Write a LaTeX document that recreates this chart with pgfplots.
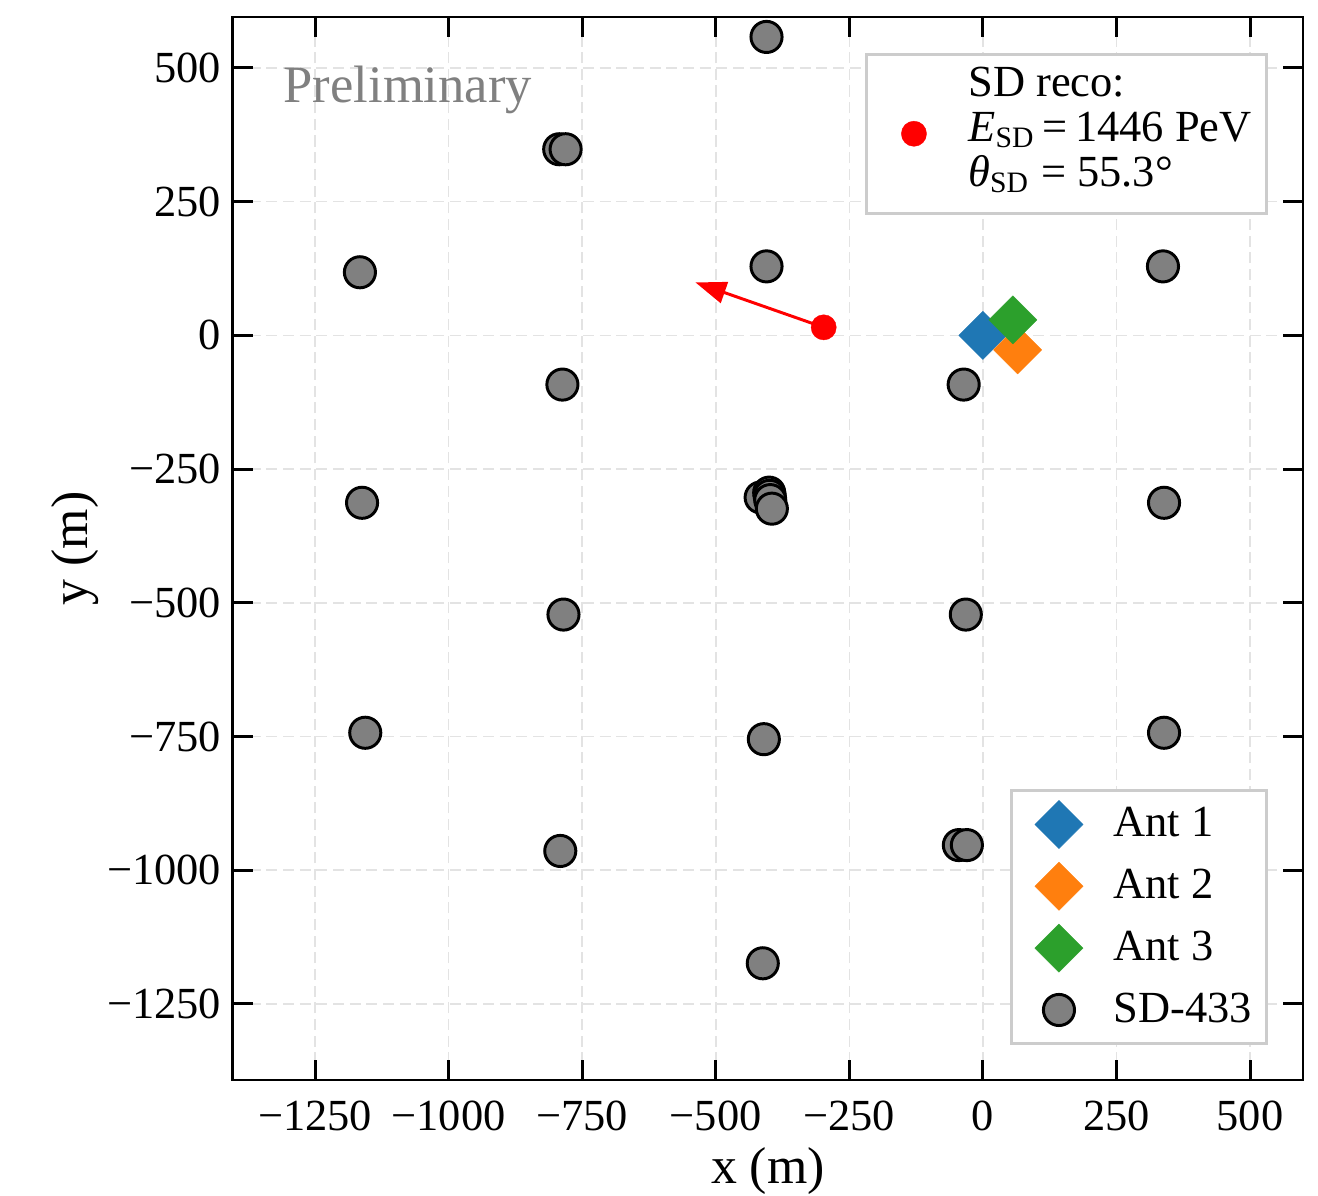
\documentclass[12pt,border=0pt]{standalone}
\usepackage{fontspec}
\setmainfont{Liberation Serif}
\usepackage{pgfplots}
\pgfplotsset{compat=1.18}
\usetikzlibrary{arrows.meta}

\definecolor{tabblue}{HTML}{1F77B4}
\definecolor{taborange}{HTML}{FF7F0E}
\definecolor{tabgreen}{HTML}{2CA02C}
\definecolor{sdgray}{HTML}{808080}
\definecolor{legframe}{HTML}{CCCCCC}
\definecolor{gridcol}{HTML}{E3E3E3}

\pgfplotsset{
  stationaxis/.style={
    scale only axis,
    width=288.9pt, height=287pt,
    xmin=-1403.6, xmax=599.1,
    ymin=-1392.2, ymax=595.3,
  },
  % one mark per entry, with fixed room before and after it
  legend image code/.code={%
    \path (-8.4pt,0pt) (14.3pt,0pt);
    \draw[#1] plot coordinates {(0pt,0pt)};},
}

\begin{document}
\begin{tikzpicture}
\begin{axis}[
  stationaxis,
  name=main,
  axis line style={line width=0.8pt},
  tick align=inside,
  xtick pos=both, ytick pos=both,
  major tick length=5.5pt,
  every tick/.style={black, line width=0.8pt},
  minor tick num=0,
  xtick={-1250,-1000,-750,-500,-250,0,250,500},
  xticklabels={−1250,−1000,−750,−500,−250,0,250,500},
  ytick={-1250,-1000,-750,-500,-250,0,250,500},
  yticklabels={−1250,−1000,−750,−500,−250,0,250,500},
  x tick label style={yshift=-1.4pt},
  y tick label style={xshift=1pt},
  grid=major,
  major grid style={gridcol, line width=0.4pt, dash pattern=on 3pt off 1.5pt},
  xlabel={x (m)}, ylabel={y (m)},
  label style={font=\fontsize{14}{16.8}\selectfont},
  xlabel style={at={(axis description cs:0.5,-0.0854)}, anchor=center},
  ylabel style={at={(axis description cs:-0.1478,0.5)}, anchor=center},
  legend style={at={(axis description cs:1,0)}, anchor=south east,
    xshift=-9.45pt, yshift=9.45pt, draw=legframe, line width=0.8pt,
    fill=white, row sep=0pt, column sep=0pt,
    inner xsep=4pt, inner ysep=0.7pt,
    nodes={inner xsep=0pt, inner ysep=1pt, text height=10.7pt, text depth=4pt}},
  legend cell align=left,
]
% antennas
\addplot[only marks, mark=square*, mark size=4.6pt,
  mark options={rotate=45, fill=tabblue, draw=tabblue, line width=0.1pt}]
  coordinates {(0,0)};
\addlegendentry{Ant 1}
\addplot[only marks, mark=square*, mark size=4.6pt,
  mark options={rotate=45, fill=taborange, draw=taborange, line width=0.1pt}]
  coordinates {(65,-27)};
\addlegendentry{Ant 2}
\addplot[only marks, mark=square*, mark size=4.6pt,
  mark options={rotate=45, fill=tabgreen, draw=tabgreen, line width=0.1pt}]
  coordinates {(56,29)};
\addlegendentry{Ant 3}
% surface detector stations
\addplot[only marks, mark=*, mark size=4.2pt,
  mark options={fill=sdgray, draw=black, line width=0.8pt}]
  coordinates {
    (-405,558)
    (-793,348) (-781,348)
    (-1166,118) (-405,129) (337,129)
    (-787,-92) (-36,-92)
    (-1162,-313)
    (-416,-303) (-400,-294) (-399,-300) (-398,-308) (-395,-324)
    (339,-313)
    (-785,-522) (-32,-522)
    (-1156,-743) (-410,-755) (339,-743)
    (-791,-964) (-45,-953) (-30,-953)
    (-412,-1174)
  };
\addlegendentry{SD-433}
% shower axis direction
\addplot[red, line width=0.8pt, -{Triangle[length=8.3pt, width=5.9pt]}]
  coordinates {(-298,15) (-538,99)};
\node[anchor=base west, inner sep=0pt, text=sdgray,
  font=\fontsize{14.2}{17}\selectfont]
  at (axis description cs:0.0467,0.92) {Preliminary};
\end{axis}

\begin{axis}[
  stationaxis,
  hide axis,
  legend style={at={(axis description cs:1,1)}, anchor=north east,
    xshift=-9.45pt, yshift=-9.7pt, draw=legframe, line width=0.8pt,
    fill=white, row sep=0pt, column sep=0pt,
    inner xsep=4pt, inner ysep=3.2pt,
    nodes={inner xsep=0pt, inner ysep=0.5pt, text height=7.6pt, text depth=3.55pt}},
  legend cell align=left,
]
\addlegendimage{empty legend}
\addlegendentry{SD reco:}
\addplot[only marks, mark=*, mark size=3.4pt,
  mark options={fill=red, draw=red, line width=0.1pt}]
  coordinates {(-298,15)};
\addlegendentry{\textit{E}\textsubscript{SD}\,=\,1446 PeV}
\addlegendimage{empty legend}
\addlegendentry{\textit{θ}\textsubscript{SD} = 55.3°}
\end{axis}

\pgfresetboundingbox
\path ([xshift=-62.9pt,yshift=-31.32pt]main.south west)
  rectangle ([xshift=4.05pt,yshift=4.59pt]main.north east);
\end{tikzpicture}
\end{document}
